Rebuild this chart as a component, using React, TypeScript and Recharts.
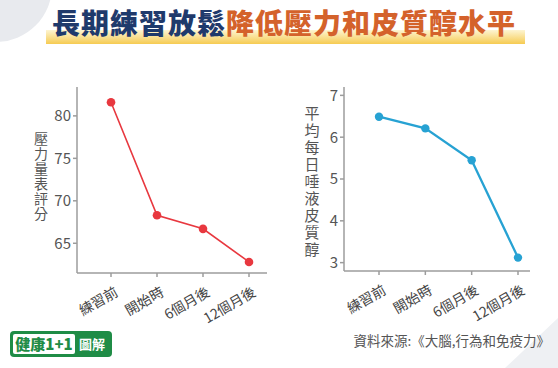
import React from "react";
import { LineChart, Line, XAxis, YAxis } from "recharts";

const categories = ["練習前", "開始時", "6個月後", "12個月後"];
const stressScores = [81.6, 68.3, 66.7, 62.8];
const cortisolLevels = [6.49, 6.21, 5.45, 3.12];
const stressTicks = [65, 70, 75, 80];
const cortisolTicks = [3, 4, 5, 6, 7];

const FONT = '"Noto Sans CJK TC", "Noto Sans", sans-serif';
const AXIS = "#9c9c9c";

const stressData = categories.map((c, i) => ({ name: c, value: stressScores[i] }));
const cortisolData = categories.map((c, i) => ({ name: c, value: cortisolLevels[i] }));

const XTick = (props: any) => {
  const { x, y, payload } = props;
  return (
    <g transform={`translate(${x + 8},${y + 16})`}>
      <text textAnchor="end" transform="rotate(-30)" fontSize={14} fill="#444" fontFamily={FONT}>
        {payload.value}
      </text>
    </g>
  );
};

// stacked vertical axis title, one text run
function VLabel({ text, left, top, size, gap }: { text: string; left: number; top: number; size: number; gap: number }) {
  return (
    <div
      style={{
        position: "absolute",
        left: left - size / 2,
        top,
        writingMode: "vertical-rl",
        textOrientation: "upright",
        fontSize: size,
        lineHeight: `${size}px`,
        letterSpacing: gap,
        color: "#555",
        fontFamily: FONT,
        whiteSpace: "nowrap",
      }}
    >
      {text}
    </div>
  );
}

export default function App() {
  return (
    <div
      style={{
        position: "absolute",
        left: 0,
        top: 0,
        width: 558,
        height: 368,
        overflow: "hidden",
        background: "#ffffff",
        fontFamily: FONT,
      }}
    >
      {/* background shapes */}
      <div
        style={{
          position: "absolute",
          left: -60,
          top: -70,
          width: 112,
          height: 112,
          borderRadius: "50%",
          background: "#e8eaee",
        }}
      />
      <svg width={558} height={368} style={{ position: "absolute", left: 0, top: 0 }}>
        <polygon points="505,368 558,318 558,368" fill="#eef0f3" />
      </svg>

      {/* title highlight */}
      <div
        style={{
          position: "absolute",
          left: 46,
          top: 30,
          width: 479,
          height: 14,
          background: "linear-gradient(180deg, rgba(252,238,180,0.6) 0%, #f6cb52 100%)",
        }}
      />
      <div
        style={{
          position: "absolute",
          left: 0,
          top: 4,
          width: 568,
          textAlign: "center",
          fontSize: 28,
          lineHeight: "36px",
          fontWeight: 900,
          letterSpacing: 1,
          whiteSpace: "nowrap",
        }}
      >
        <span style={{ color: "#1f3a6c" }}>長期練習放鬆</span>
        <span style={{ color: "#d4622b" }}>降低壓力和皮質醇水平</span>
      </div>

      {/* left chart */}
      <div style={{ position: "absolute", left: 0, top: 0 }}>
        <LineChart width={280} height={340} data={stressData} margin={{ top: 87, right: 13, left: 0, bottom: 0 }}>
          <XAxis
            dataKey="name"
            height={67}
            padding={{ left: 34, right: 18 }}
            stroke={AXIS}
            strokeWidth={1.5}
            tickSize={4}
            tick={<XTick />}
            interval={0}
          />
          <YAxis
            width={77}
            domain={[61.5, 83.4]}
            ticks={stressTicks}
            stroke={AXIS}
            strokeWidth={1.5}
            tickSize={4}
            tick={{ fill: "#555", fontSize: 15, fontFamily: FONT }}
          />
          <Line
            dataKey="value"
            stroke="#e8383f"
            strokeWidth={1.6}
            dot={{ r: 4.3, fill: "#e8383f", stroke: "#e8383f", strokeWidth: 0 }}
            isAnimationActive={false}
          />
        </LineChart>
      </div>
      <VLabel text="壓力量表評分" left={41} top={132} size={14} gap={1} />

      {/* right chart */}
      <div style={{ position: "absolute", left: 290, top: 0 }}>
        <LineChart width={262} height={340} data={cortisolData} margin={{ top: 87, right: 22, left: 0, bottom: 0 }}>
          <XAxis
            dataKey="name"
            height={69}
            padding={{ left: 35, right: 12 }}
            stroke={AXIS}
            strokeWidth={1.5}
            tickSize={4}
            tick={<XTick />}
            interval={0}
          />
          <YAxis
            width={54}
            domain={[2.8, 7.2]}
            ticks={cortisolTicks}
            stroke={AXIS}
            strokeWidth={1.5}
            tickSize={4}
            tick={{ fill: "#555", fontSize: 15, fontFamily: FONT }}
          />
          <Line
            dataKey="value"
            stroke="#27a2d3"
            strokeWidth={2.3}
            dot={{ r: 4.2, fill: "#27a2d3", stroke: "#27a2d3", strokeWidth: 0 }}
            isAnimationActive={false}
          />
        </LineChart>
      </div>
      <VLabel text="平均每日唾液皮質醇" left={312} top={106} size={15} gap={2} />

      {/* logo */}
      <div
        style={{
          position: "absolute",
          left: 10,
          top: 331,
          width: 102,
          height: 26,
          borderRadius: 4,
          background: "#1f8c46",
        }}
      >
        <div
          style={{
            position: "absolute",
            left: 3,
            top: 3,
            width: 62,
            height: 20,
            borderRadius: 2,
            background: "#ffffff",
            color: "#1f8c46",
            fontSize: 15,
            fontWeight: 900,
            lineHeight: "20px",
            textAlign: "center",
            whiteSpace: "nowrap",
          }}
        >
          健康1+1
        </div>
        <div
          style={{
            position: "absolute",
            left: 69,
            top: 3,
            width: 30,
            height: 20,
            color: "#ffffff",
            fontSize: 13,
            fontWeight: 700,
            lineHeight: "20px",
            whiteSpace: "nowrap",
          }}
        >
          圖解
        </div>
      </div>

      {/* source */}
      <div
        style={{
          position: "absolute",
          right: 8,
          top: 331,
          fontSize: 13.5,
          lineHeight: "18px",
          color: "#555",
          whiteSpace: "nowrap",
        }}
      >
        資料來源:《大腦,行為和免疫力》
      </div>
    </div>
  );
}
